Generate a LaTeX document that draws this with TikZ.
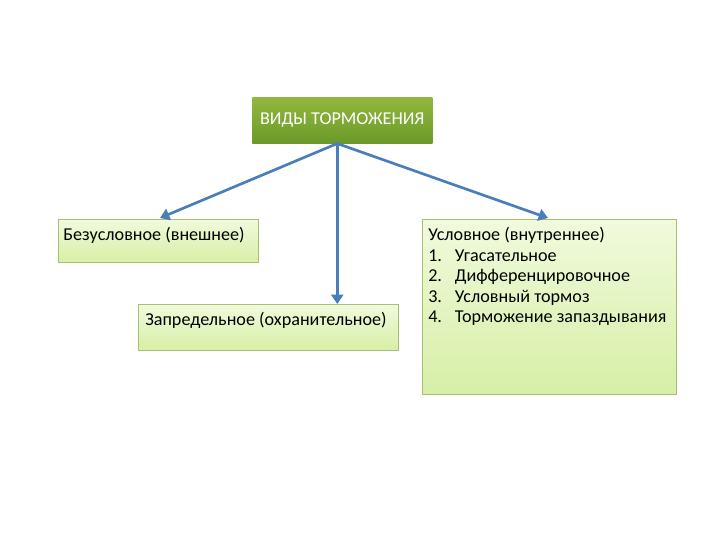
\documentclass[tikz,border=0pt]{standalone}
\usepackage{fontspec}
\setmainfont{Carlito}
\usepackage{xcolor}
\usetikzlibrary{
    arrows.meta,
    positioning
}
\definecolor{headtop}{HTML}{92B83E}
\definecolor{headbot}{HTML}{6A9A2A}
\definecolor{boxtop}{HTML}{F1FADC}
\definecolor{boxbot}{HTML}{D6EFA6}
\definecolor{boxline}{HTML}{A8C070}
\definecolor{linkblue}{HTML}{4A7EBB}
\tikzset{
    headbox/.style={
        rectangle,
        top color=headtop,
        bottom color=headbot,
        draw=none,
        anchor=north west,
        inner sep=0pt
    },
    leafbox/.style={
        rectangle,
        top color=boxtop,
        bottom color=boxbot,
        draw=boxline,
        line width=0.6pt,
        anchor=north west,
        inner sep=0pt
    },
    leaftext/.style={
        anchor=north west,
        align=left,
        inner sep=0pt,
        font=\fontsize{13.6}{15.4}\selectfont
    },
    arrow/.style={
        -{Triangle[length=7pt,width=9pt]},
        draw=linkblue,
        line width=2pt
    }
}

\begin{document}
\begin{tikzpicture}[x=0.75pt,y=-0.75pt]
\useasboundingbox (0,0) rectangle (720,540);
% boxes
\node[headbox, minimum width=180*0.75pt, minimum height=46*0.75pt] (head) at (252,97) {};
\node[font=\fontsize{13.6}{15}\selectfont, text=white] (headlabel) at (head.center) {ВИДЫ ТОРМОЖЕНИЯ};
\node[leafbox, minimum width=200*0.75pt, minimum height=43*0.75pt] (outer) at (58,219) {};
\node[leafbox, minimum width=260*0.75pt, minimum height=46*0.75pt] (limit) at (138,304) {};
\node[leafbox, minimum width=254*0.75pt, minimum height=175*0.75pt] (inner) at (422,219) {};
% texts
\node[leaftext] (outerlabel) at (63,227) {Безусловное (внешнее)};
\node[leaftext] (limitlabel) at (145,312) {Запредельное (охранительное)};
\node[leaftext] (innerlabel) at (428,227) {Условное (внутреннее)\\
\makebox[20pt][l]{1.}Угасательное\\
\makebox[20pt][l]{2.}Дифференцировочное\\
\makebox[20pt][l]{3.}Условный тормоз\\
\makebox[20pt][l]{4.}Торможение запаздывания};
% links
\coordinate (fork) at ([xshift=-5*0.75pt]head.south);
\draw[arrow] (fork) -- (160,218);
\draw[arrow] (fork) -- (limit.north -| fork);
\draw[arrow] (fork) -- (548,218);
\end{tikzpicture}
\end{document}
